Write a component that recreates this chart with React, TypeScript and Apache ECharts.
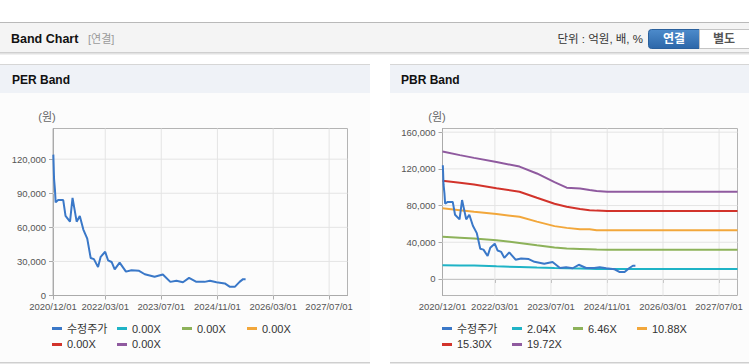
import React, { useEffect, useRef } from 'react';
import * as echarts from 'echarts';

// ---------- data ----------
const priceDates = [
  '2020-12-04', '2020-12-10', '2020-12-18', '2020-12-24', '2021-01-15', '2021-02-28',
  '2021-03-20', '2021-04-28', '2021-05-20', '2021-06-25', '2021-07-22', '2021-08-22',
  '2021-09-25', '2021-10-25', '2021-11-22', '2021-12-28', '2022-01-20', '2022-02-28',
  '2022-03-25', '2022-04-25', '2022-05-22', '2022-07-04', '2022-08-28', '2022-10-15',
  '2022-12-20', '2023-02-08', '2023-05-04', '2023-07-15', '2023-09-18', '2023-11-10',
  '2024-01-06', '2024-02-28', '2024-05-02', '2024-07-12', '2024-08-28', '2024-10-24',
  '2025-01-04', '2025-02-18', '2025-04-01', '2025-05-13', '2025-06-12', '2025-07-04',
];
const priceValues = [
  124000, 103000, 93000, 82000, 84000, 84000,
  70000, 65000, 86000, 65000, 70000, 58000,
  50000, 33000, 32000, 25000, 34000, 38500,
  31000, 29500, 23000, 29000, 21000, 22300,
  21700, 18700, 16500, 18500, 12000, 12900,
  11700, 15500, 12000, 12000, 12900, 11700,
  10600, 7600, 7600, 12000, 14400, 14400,
];

const bandDates = [
  '2020-12-01', '2021-05-01', '2021-09-01', '2022-03-15', '2022-10-01', '2023-03-01',
  '2023-08-01', '2023-11-15', '2024-03-10', '2024-06-01', '2024-08-01', '2024-11-01', '2027-12-08',
];
const pbrBand204 = [15000, 14800, 14600, 13800, 13100, 12500, 12000, 11700, 11400, 11100, 10900, 10800, 10800];
const pbrBand646 = [46000, 45000, 44100, 42300, 39300, 36800, 34300, 33200, 32800, 32500, 32100, 31800, 31800];
const pbrBand1088 = [77000, 75000, 73200, 70700, 67800, 62500, 57600, 55700, 54300, 54300, 53200, 53200, 53200];
const pbrBand1530 = [107000, 105000, 103000, 99000, 95000, 88500, 82000, 78700, 76200, 75000, 74500, 74000, 74000];
const pbrBand1972 = [139000, 135000, 132000, 127500, 122500, 115000, 105500, 99500, 98500, 97000, 96000, 95000, 95000];

const priceLabel = '수정주가';
const perBandLabels = ['0.00X', '0.00X', '0.00X', '0.00X', '0.00X'];
const pbrBandLabels = ['2.04X', '6.46X', '10.88X', '15.30X', '19.72X'];
const xTickLabels = ['2020/12/01', '2022/03/01', '2023/07/01', '2024/11/01', '2026/03/01', '2027/07/01'];
const perYTicks = [0, 30000, 60000, 90000, 120000];
const pbrYTicks = [0, 40000, 80000, 120000, 160000];
const perYRange = [0, 147000];
const pbrYRange = [-18000, 164000];

const priceColor = '#3a78c8';
const bandColors = ['#1fb3c6', '#8db25a', '#f2a73b', '#d2332b', '#8f5a9f'];

// ---------- helpers ----------
const ts = (s: string) => {
  const [y, m, d] = s.split(/[-/]/).map(Number);
  return new Date(y, m - 1, d).getTime();
};
const pad = (n: number) => (n < 10 ? '0' + n : '' + n);
const fmtDate = (v: number) => {
  const d = new Date(v);
  return `${d.getFullYear()}/${pad(d.getMonth() + 1)}/${pad(d.getDate())}`;
};
const FONT = '"Liberation Sans", Arial, "Noto Sans CJK KR", sans-serif';
const KFONT = '"Liberation Sans", "Noto Sans CJK KR", sans-serif';

const xTicks = xTickLabels.map(ts);
const xMin = ts('2020-12-01');
const xMax = ts('2027-12-08');

const priceData = priceDates.map((d, i) => [ts(d), priceValues[i]]);
const pbrBands = [pbrBand204, pbrBand646, pbrBand1088, pbrBand1530, pbrBand1972];

function makeX(gridIndex: number) {
  return {
    type: 'value',
    gridIndex,
    z: 1,
    min: xMin,
    max: xMax,
    axisLine: { show: true, lineStyle: { color: '#aaaaaa', width: 1 } },
    axisTick: { show: true, customValues: xTicks, length: 4, lineStyle: { color: '#aaaaaa' } },
    axisLabel: {
      customValues: xTicks,
      formatter: (v: number) => fmtDate(v),
      color: '#555',
      fontSize: 9.5,
      fontFamily: FONT,
      margin: 6,
      hideOverlap: false,
    },
    splitLine: { show: false },
  };
}

function makeY(gridIndex: number, range: number[], ticks: number[]) {
  return {
    type: 'value',
    gridIndex,
    z: 1,
    min: range[0],
    max: range[1],
    axisLine: { show: true, lineStyle: { color: '#aaaaaa' } },
    axisTick: { show: true, customValues: ticks, length: 4, lineStyle: { color: '#aaaaaa' } },
    axisLabel: {
      customValues: ticks,
      formatter: (v: number) => v.toLocaleString('en-US'),
      color: '#555',
      fontSize: 9.5,
      fontFamily: FONT,
      margin: 7,
    },
    splitLine: { show: false },
  };
}

// light grid lines at the tick values, drawn through the axes' scales as a broken line series
function gridSeries(idx: number, yRange: number[], yTicks: number[]) {
  const pts: any[] = [];
  xTicks.slice(1).forEach((x) => {
    pts.push([x, yRange[0]], [x, yRange[1]], [x, null]);
  });
  yTicks.forEach((y) => {
    if (y > yRange[0]) pts.push([xMin, y], [xMax, y], [xMax, null]);
  });
  return {
    name: 'grid_' + idx,
    type: 'line',
    xAxisIndex: idx,
    yAxisIndex: idx,
    data: pts,
    connectNulls: false,
    showSymbol: false,
    silent: true,
    z: 3,
    lineStyle: { color: '#e4e4e4', width: 1 },
    itemStyle: { color: '#e4e4e4' },
    emphasis: { disabled: true },
    tooltip: { show: false },
  };
}

export default function App() {
  const ref = useRef<HTMLDivElement>(null);

  useEffect(() => {
    if (!ref.current) return;
    const chart = echarts.init(ref.current, undefined, { renderer: 'svg', width: 749, height: 364 });

    const perSeries = perBandLabels.map((_, i) => ({
      name: 'per_' + i,
      type: 'line',
      xAxisIndex: 0,
      yAxisIndex: 0,
      data: [] as any[],
      showSymbol: false,
      z: 3,
      lineStyle: { color: bandColors[i], width: 2 },
      itemStyle: { color: bandColors[i] },
    }));
    const pbrSeries = pbrBandLabels.map((lab, i) => ({
      name: lab,
      type: 'line',
      xAxisIndex: 1,
      yAxisIndex: 1,
      data: bandDates.map((d, j) => [ts(d), pbrBands[i][j]]),
      showSymbol: false,
      z: 3,
      lineStyle: { color: bandColors[i], width: 2 },
      itemStyle: { color: bandColors[i] },
    }));
    const priceSeries = (xi: number) => ({
      name: priceLabel,
      type: 'line',
      xAxisIndex: xi,
      yAxisIndex: xi,
      data: priceData,
      showSymbol: false,
      z: 5,
      lineStyle: { color: priceColor, width: 2 },
      itemStyle: { color: priceColor },
    });

    const legendBase = {
      orient: 'horizontal',
      top: 323,
      padding: 0,
      itemGap: 5,
      itemWidth: 10,
      itemHeight: 3,
      icon: 'rect',
      selectedMode: false,
      z: 5,
      textStyle: { color: '#333', fontSize: 11, fontFamily: KFONT, lineHeight: 10 },
    };

    const perLegendData = [priceLabel, ...perBandLabels.map((_, i) => 'per_' + i)].map((n) => ({
      name: n,
      textStyle: { width: 45 },
    }));
    const pbrWidths = [50, 41, 44, 45, 50, 45];
    const pbrLegendData = [priceLabel, ...pbrBandLabels].map((n, i) => ({
      name: n,
      textStyle: { width: pbrWidths[i] },
    }));

    const bg = (x: number, y: number, w: number, h: number, fill: any, z = -100) => ({
      type: 'rect',
      z,
      silent: true,
      shape: { x, y, width: w, height: h },
      style: { fill },
    });
    const txt = (x: number, y: number, text: string, o: any = {}) => ({
      type: 'text',
      z: 100,
      silent: true,
      x,
      y,
      style: {
        text,
        fontFamily: KFONT,
        fontSize: 12,
        fill: '#333',
        verticalAlign: 'middle',
        align: 'left',
        ...o,
      },
    });

    const graphic = [
      bg(0, 22, 749, 1, '#b9b9b9'),
      bg(0, 23, 749, 29, '#f4f4f4'),
      bg(0, 52, 749, 1, '#cfcfcf'),
      bg(0, 53, 749, 1, '#e2e2e2'),
      bg(0, 54, 749, 1, '#f0f0f0'),
      bg(0, 64, 370, 1, '#d6d6d6'),
      bg(0, 65, 370, 28, '#eff2f7'),
      bg(0, 93, 370, 269, '#fcfcfc'),
      bg(0, 362, 370, 1.5, '#cfcfcf'),
      bg(390, 64, 359, 1, '#d6d6d6'),
      bg(390, 65, 359, 28, '#eff2f7'),
      bg(390, 93, 359, 269, '#fcfcfc'),
      bg(390, 362, 359, 1.5, '#cfcfcf'),
      {
        type: 'rect',
        z: 90,
        silent: true,
        shape: { x: 648.5, y: 29.5, width: 51, height: 19, r: [3, 0, 0, 3] },
        style: {
          fill: new echarts.graphic.LinearGradient(0, 0, 0, 1, [
            { offset: 0, color: '#4d8bcb' },
            { offset: 1, color: '#2c67a9' },
          ]),
          stroke: '#2a609c',
          lineWidth: 1,
        },
      },
      {
        type: 'rect',
        z: 90,
        silent: true,
        shape: { x: 699.5, y: 29.5, width: 55, height: 19 },
        style: { fill: '#ffffff', stroke: '#c4c4c4', lineWidth: 1 },
      },
      txt(674, 39, '연결', { fill: '#ffffff', fontWeight: 'bold', align: 'center', fontSize: 12 }),
      txt(724, 39, '별도', { fill: '#555555', fontWeight: 'bold', align: 'center', fontSize: 12 }),
      txt(643, 39, '단위 : 억원, 배, %', { align: 'right', fontSize: 11.5, fill: '#333' }),
      txt(11, 38.5, 'Band Chart', { fontWeight: 'bold', fontSize: 12.5, fill: '#111', fontFamily: FONT }),
      txt(88, 38.5, '[연결]', { fontSize: 11, fill: '#9a9a9a' }),
      txt(12, 80, 'PER Band', { fontWeight: 'bold', fontSize: 12, fill: '#111', fontFamily: FONT }),
      txt(401, 80, 'PBR Band', { fontWeight: 'bold', fontSize: 12, fill: '#111', fontFamily: FONT }),
      txt(47, 117, '(원)', { align: 'center', fontSize: 11, fill: '#666' }),
      txt(437, 117, '(원)', { align: 'center', fontSize: 11, fill: '#666' }),
    ];

    chart.setOption({
      animation: false,
      backgroundColor: '#ffffff',
      textStyle: { fontFamily: KFONT },
      graphic: { z: -10, elements: graphic },
      grid: [
        { left: 53, top: 128.5, right: 401.5, bottom: 68.5, show: true, z: 1, borderColor: '#b4b4b4', borderWidth: 1, backgroundColor: 'transparent' },
        { left: 442.5, top: 128.5, right: 11.5, bottom: 68.5, show: true, z: 1, borderColor: '#b4b4b4', borderWidth: 1, backgroundColor: 'transparent' },
      ],
      xAxis: [makeX(0), makeX(1)],
      yAxis: [makeY(0, perYRange, perYTicks), makeY(1, pbrYRange, pbrYTicks)],
      legend: [
        { ...legendBase, left: 52, width: 270, data: perLegendData, formatter: (n: string) => (n.startsWith('per_') ? perBandLabels[Number(n.slice(4))] : n) },
        { ...legendBase, left: 442, width: 260, data: pbrLegendData },
      ],
      series: [
        gridSeries(0, perYRange, perYTicks),
        gridSeries(1, pbrYRange, pbrYTicks),
        priceSeries(0),
        ...perSeries,
        ...pbrSeries,
        priceSeries(1),
      ],
    });

    return () => chart.dispose();
  }, []);

  return (
    <div
      ref={ref}
      style={{ position: 'absolute', left: 0, top: 0, width: 749, height: 364 }}
    />
  );
}
